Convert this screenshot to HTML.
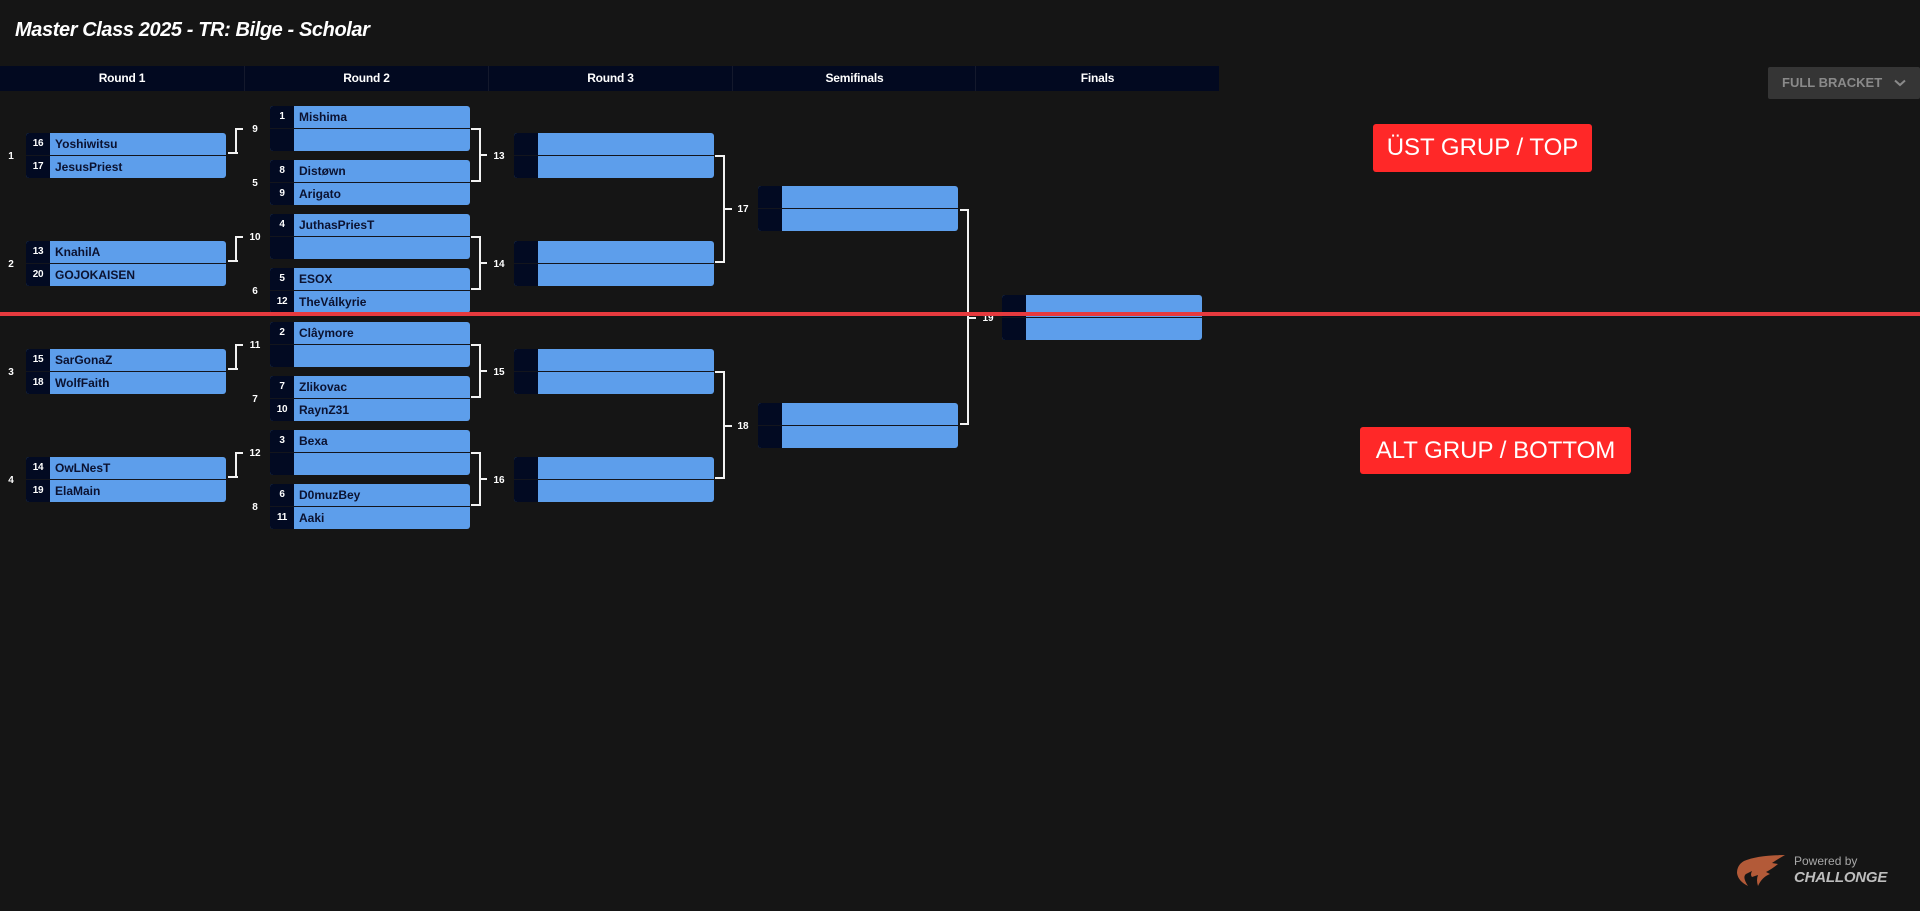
<!DOCTYPE html>
<html><head><meta charset="utf-8"><style>
*{margin:0;padding:0;box-sizing:border-box}
body{width:1920px;height:911px;background:#151515;overflow:hidden;position:relative;font-family:"Liberation Sans",Arial,sans-serif}
.title{position:absolute;left:15px;top:19px;font:italic bold 20px/22px "Liberation Sans",sans-serif;letter-spacing:-0.4px;color:#fff}
.hdr{position:absolute;left:0;top:66px;width:1219px;height:25px;background:#020920}
.hc{position:absolute;top:0;height:25px;width:244px;text-align:center;color:#fff;font:bold 12px/25px "Liberation Sans",sans-serif;letter-spacing:-0.2px;border-left:1px solid #14192c}
.m{position:absolute;width:200px;height:45px;border-radius:3px;overflow:hidden;background:#13151d}
.r{position:absolute;left:0;width:200px;height:22px;background:#5d9eeb}
.t{top:0}.b{top:23px}
.s{position:absolute;left:0;top:0;width:24px;height:22px;background:#020a22;color:#fff;font:bold 10px/22px "Liberation Sans",sans-serif;text-align:center;letter-spacing:-0.3px}
.n{position:absolute;left:29px;top:0;font:bold 12px/22px "Liberation Sans",sans-serif;color:#0b1230;white-space:nowrap}
.l{position:absolute;width:30px;margin-left:-15px;margin-top:2px;text-align:center;font:bold 10px/12px "Liberation Sans",sans-serif;color:#fff}
.c{position:absolute;background:#f2f2f2}
.red{position:absolute;left:0;top:312px;width:1920px;height:4px;background:#e63a3e;z-index:5}
.btn{position:absolute;background:#ff2828;color:#fff;border-radius:3px;text-align:center;font:24px/47px "Liberation Sans",Arial,sans-serif}
.fb{position:absolute;left:1768px;top:67px;width:152px;height:32px;background:#353535;border-radius:2px;color:#8a8a8a;font:bold 13px/32px "Liberation Sans",sans-serif;padding-left:14px}
</style></head><body>
<div class="title">Master Class 2025 - TR: Bilge - Scholar</div>

<div class="hdr">
<div class="hc" style="left:0;border-left:none">Round 1</div>
<div class="hc" style="left:244px">Round 2</div>
<div class="hc" style="left:488px">Round 3</div>
<div class="hc" style="left:732px">Semifinals</div>
<div class="hc" style="left:975px">Finals</div>
</div>

<div class="fb">FULL BRACKET<svg style="position:absolute;left:126px;top:12px" width="12" height="8" viewBox="0 0 12 8"><polyline points="1,1.5 6,6 11,1.5" fill="none" stroke="#8a8a8a" stroke-width="2"/></svg></div>

<!-- Round 1 -->
<div class="m" style="left:26px;top:133px"><div class="r t"><span class="s">16</span><span class="n">Yoshiwitsu</span></div><div class="r b"><span class="s">17</span><span class="n">JesusPriest</span></div></div>
<div class="m" style="left:26px;top:241px"><div class="r t"><span class="s">13</span><span class="n">KnahilA</span></div><div class="r b"><span class="s">20</span><span class="n">GOJOKAISEN</span></div></div>
<div class="m" style="left:26px;top:349px"><div class="r t"><span class="s">15</span><span class="n">SarGonaZ</span></div><div class="r b"><span class="s">18</span><span class="n">WolfFaith</span></div></div>
<div class="m" style="left:26px;top:457px"><div class="r t"><span class="s">14</span><span class="n">OwLNesT</span></div><div class="r b"><span class="s">19</span><span class="n">ElaMain</span></div></div>

<!-- Round 2 -->
<div class="m" style="left:270px;top:106px"><div class="r t"><span class="s">1</span><span class="n">Mishima</span></div><div class="r b"><span class="s"></span></div></div>
<div class="m" style="left:270px;top:160px"><div class="r t"><span class="s">8</span><span class="n">Distøwn</span></div><div class="r b"><span class="s">9</span><span class="n">Arigato</span></div></div>
<div class="m" style="left:270px;top:214px"><div class="r t"><span class="s">4</span><span class="n">JuthasPriesT</span></div><div class="r b"><span class="s"></span></div></div>
<div class="m" style="left:270px;top:268px"><div class="r t"><span class="s">5</span><span class="n">ESOX</span></div><div class="r b"><span class="s">12</span><span class="n">TheVálkyrie</span></div></div>
<div class="m" style="left:270px;top:322px"><div class="r t"><span class="s">2</span><span class="n">Clâymore</span></div><div class="r b"><span class="s"></span></div></div>
<div class="m" style="left:270px;top:376px"><div class="r t"><span class="s">7</span><span class="n">Zlikovac</span></div><div class="r b"><span class="s">10</span><span class="n">RaynZ31</span></div></div>
<div class="m" style="left:270px;top:430px"><div class="r t"><span class="s">3</span><span class="n">Bexa</span></div><div class="r b"><span class="s"></span></div></div>
<div class="m" style="left:270px;top:484px"><div class="r t"><span class="s">6</span><span class="n">D0muzBey</span></div><div class="r b"><span class="s">11</span><span class="n">Aaki</span></div></div>

<!-- Round 3 -->
<div class="m" style="left:514px;top:133px"><div class="r t"><span class="s"></span></div><div class="r b"><span class="s"></span></div></div>
<div class="m" style="left:514px;top:241px"><div class="r t"><span class="s"></span></div><div class="r b"><span class="s"></span></div></div>
<div class="m" style="left:514px;top:349px"><div class="r t"><span class="s"></span></div><div class="r b"><span class="s"></span></div></div>
<div class="m" style="left:514px;top:457px"><div class="r t"><span class="s"></span></div><div class="r b"><span class="s"></span></div></div>

<!-- Semis -->
<div class="m" style="left:758px;top:186px"><div class="r t"><span class="s"></span></div><div class="r b"><span class="s"></span></div></div>
<div class="m" style="left:758px;top:403px"><div class="r t"><span class="s"></span></div><div class="r b"><span class="s"></span></div></div>

<!-- Finals -->
<div class="m" style="left:1002px;top:295px"><div class="r t"><span class="s"></span></div><div class="r b"><span class="s"></span></div></div>

<!-- Labels -->
<div class="l" style="left:11px;top:149px">1</div>
<div class="l" style="left:11px;top:257px">2</div>
<div class="l" style="left:11px;top:365px">3</div>
<div class="l" style="left:11px;top:473px">4</div>
<div class="l" style="left:255px;top:122px">9</div>
<div class="l" style="left:255px;top:176px">5</div>
<div class="l" style="left:255px;top:230px">10</div>
<div class="l" style="left:255px;top:284px">6</div>
<div class="l" style="left:255px;top:338px">11</div>
<div class="l" style="left:255px;top:392px">7</div>
<div class="l" style="left:255px;top:446px">12</div>
<div class="l" style="left:255px;top:500px">8</div>
<div class="l" style="left:499px;top:149px">13</div>
<div class="l" style="left:499px;top:257px">14</div>
<div class="l" style="left:499px;top:365px">15</div>
<div class="l" style="left:499px;top:473px">16</div>
<div class="l" style="left:743px;top:202px">17</div>
<div class="l" style="left:743px;top:419px">18</div>
<div class="l" style="left:988px;top:311px">19</div>

<!-- R1 -> R2 connectors -->
<div class="c" style="left:228px;top:152px;width:10px;height:2px"></div><div class="c" style="left:235px;top:128px;width:2px;height:26px"></div><div class="c" style="left:235px;top:128px;width:8px;height:2px"></div>
<div class="c" style="left:228px;top:260px;width:10px;height:2px"></div><div class="c" style="left:235px;top:236px;width:2px;height:26px"></div><div class="c" style="left:235px;top:236px;width:8px;height:2px"></div>
<div class="c" style="left:228px;top:368px;width:10px;height:2px"></div><div class="c" style="left:235px;top:344px;width:2px;height:26px"></div><div class="c" style="left:235px;top:344px;width:8px;height:2px"></div>
<div class="c" style="left:228px;top:476px;width:10px;height:2px"></div><div class="c" style="left:235px;top:452px;width:2px;height:26px"></div><div class="c" style="left:235px;top:452px;width:8px;height:2px"></div>

<!-- R2 -> R3 connectors -->
<div class="c" style="left:471px;top:128px;width:10px;height:2px"></div><div class="c" style="left:479px;top:128px;width:2px;height:54px"></div><div class="c" style="left:471px;top:180px;width:10px;height:2px"></div><div class="c" style="left:479px;top:154px;width:8px;height:2px"></div>
<div class="c" style="left:471px;top:236px;width:10px;height:2px"></div><div class="c" style="left:479px;top:236px;width:2px;height:54px"></div><div class="c" style="left:471px;top:288px;width:10px;height:2px"></div><div class="c" style="left:479px;top:262px;width:8px;height:2px"></div>
<div class="c" style="left:471px;top:344px;width:10px;height:2px"></div><div class="c" style="left:479px;top:344px;width:2px;height:54px"></div><div class="c" style="left:471px;top:396px;width:10px;height:2px"></div><div class="c" style="left:479px;top:370px;width:8px;height:2px"></div>
<div class="c" style="left:471px;top:452px;width:10px;height:2px"></div><div class="c" style="left:479px;top:452px;width:2px;height:54px"></div><div class="c" style="left:471px;top:504px;width:10px;height:2px"></div><div class="c" style="left:479px;top:478px;width:8px;height:2px"></div>

<!-- R3 -> SF connectors -->
<div class="c" style="left:715px;top:155px;width:10px;height:2px"></div><div class="c" style="left:723px;top:155px;width:2px;height:108px"></div><div class="c" style="left:715px;top:261px;width:10px;height:2px"></div><div class="c" style="left:723px;top:208px;width:9px;height:2px"></div>
<div class="c" style="left:715px;top:371px;width:10px;height:2px"></div><div class="c" style="left:723px;top:371px;width:2px;height:108px"></div><div class="c" style="left:715px;top:477px;width:10px;height:2px"></div><div class="c" style="left:723px;top:425px;width:9px;height:2px"></div>

<!-- SF -> F connectors -->
<div class="c" style="left:960px;top:209px;width:9px;height:2px"></div><div class="c" style="left:967px;top:209px;width:2px;height:216px"></div><div class="c" style="left:960px;top:423px;width:9px;height:2px"></div><div class="c" style="left:967px;top:317px;width:9px;height:2px"></div>

<div class="red"></div>

<div class="btn" style="left:1373px;top:124px;width:219px;height:48px">ÜST GRUP / TOP</div>
<div class="btn" style="left:1360px;top:427px;width:271px;height:47px">ALT GRUP / BOTTOM</div>

<!-- Logo -->
<svg style="position:absolute;left:1736px;top:853px" width="52" height="36" viewBox="0 0 52 36">
<path d="M8 8 Q22 2 49 2 Q42 6 36 10 L42 11 Q36 16 30 19 L34 21 Q26 24 22 33 Q20 27 22 22 L16 24 Q14 22 16 18 L10 21 Q6 24 12 33 Q2 28 1 20 Q1 12 8 8 Z" fill="#b35a38"/>
</svg>
<div style="position:absolute;left:1794px;top:854px;color:#a8a8a8;font:12px/14px 'Liberation Sans',sans-serif">Powered by</div>
<div style="position:absolute;left:1794px;top:869px;color:#bdbdbd;font:italic bold 15px/17px 'Liberation Sans',sans-serif;letter-spacing:-0.2px">CHALLONGE</div>
</body></html>
